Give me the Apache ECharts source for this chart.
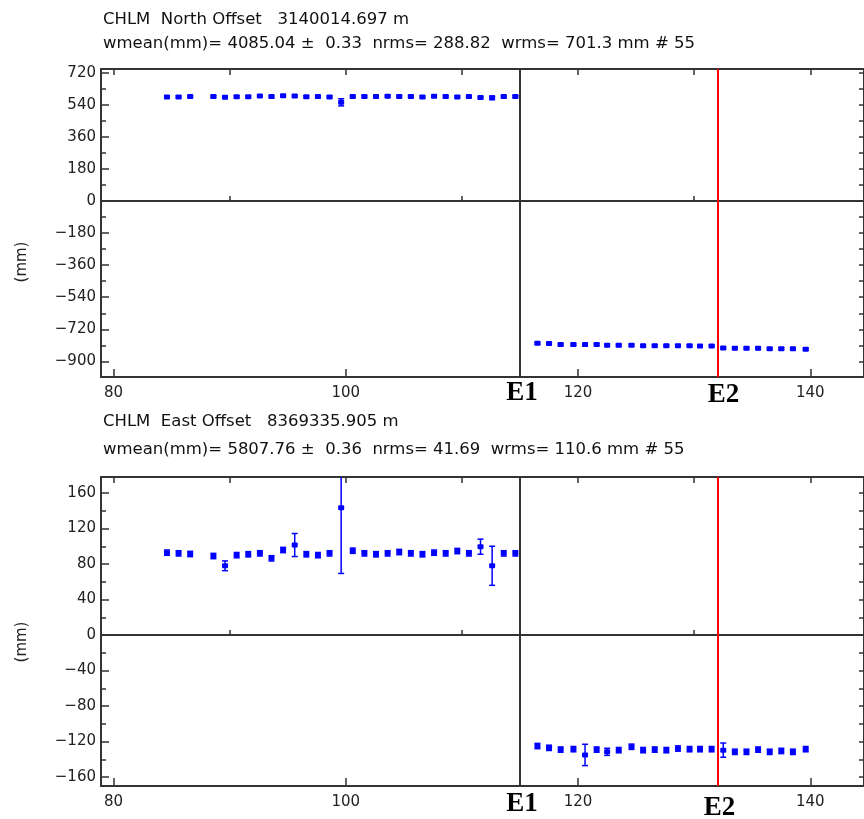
<!DOCTYPE html>
<html>
<head>
<meta charset="utf-8">
<script src="https://cdn.jsdelivr.net/npm/echarts@6/dist/echarts.min.js"></script>
<style>
  html, body { margin: 0; padding: 0; background: #fff; }
  #chart { width: 864px; height: 819px; }
</style>
</head>
<body>
<div id="chart"></div>
<script>
// epochs (decimal year, 2-digit style)
var epochs = [84.6, 85.6, 86.6, 88.6, 89.6, 90.6, 91.6, 92.6, 93.6, 94.6,
  95.6, 96.6, 97.6, 98.6, 99.6, 100.6, 101.6, 102.6, 103.6, 104.6,
  105.6, 106.6, 107.6, 108.6, 109.6, 110.6, 111.6, 112.6, 113.6, 114.6,
  116.5, 117.5, 118.5, 119.6, 120.6, 121.6, 122.5, 123.5, 124.6, 125.6,
  126.6, 127.6, 128.6, 129.6, 130.5, 131.5, 132.5, 133.5, 134.5, 135.5,
  136.5, 137.5, 138.5, 139.6]

// North offsets (mm) and sigmas
var northVals = [585, 585, 587, 587, 583, 586, 586, 590, 587, 592,
  590, 586, 587, 585, 555, 587, 587, 587, 589, 588,
  587, 585, 589, 587, 585, 587, 582, 580, 587, 587,
  -799, -800, -806, -806, -806, -806, -810, -810, -810, -812,
  -812, -812, -812, -812, -814, -814, -825, -827, -827, -827,
  -829, -829, -829, -832]
var northErr = [6, 6, 6, 6, 6, 6, 6, 6, 6, 6,
  6, 6, 6, 6, 20, 6, 6, 6, 6, 6,
  6, 6, 6, 6, 6, 6, 6, 10, 6, 6,
  6, 6, 6, 6, 6, 6, 6, 6, 6, 6,
  6, 6, 6, 6, 6, 6, 6, 6, 6, 6,
  6, 6, 6, 6]

// East offsets (mm) and sigmas
var eastVals = [92.8, 92, 91.3, 89, 78, 90, 91, 92, 86.4, 95.8,
  101.4, 91, 90, 92, 143.4, 95, 92, 91, 92, 93.5,
  92, 91, 92.8, 92, 94.6, 92, 99.5, 78, 92, 92,
  -125, -127, -129, -128.5, -135, -129, -131.5, -129.6, -125.8, -129.6,
  -129, -129.6, -127.8, -128.5, -128.5, -128.5, -129.6, -131.5, -131.5, -129,
  -131.5, -130.5, -131.5, -128.5]
var eastErr = [3, 3, 3, 3, 5.5, 3, 3, 3, 3, 3,
  13, 3, 3, 3, 74, 3, 3, 3, 3, 3,
  3, 3, 3, 3, 3, 3, 8.5, 22, 3, 3,
  3, 3, 3, 3, 12, 3, 4, 3, 3, 3,
  3, 3, 3, 3, 3, 3, 8, 3, 3, 3,
  3, 3, 3, 3]

// event epochs
var E1 = 115
var E2 = 132

// tick values
var xTicks = [80, 100, 120, 140]
var xMinorTicks = [90, 110, 130]
var xAllTicks = [80, 90, 100, 110, 120, 130, 140]
var northTicks = [720, 540, 360, 180, 0, -180, -360, -540, -720, -900]
var northMinor = [630, 450, 270, 90, -90, -270, -450, -630, -810]
var eastTicks = [160, 120, 80, 40, 0, -40, -80, -120, -160]
var eastMinor = [140, 100, 60, 20, -20, -60, -100, -140]

var titles = [
  ['CHLM  North Offset   3140014.697 m', 'wmean(mm)= 4085.04 \u00b1  0.33  nrms= 288.82  wrms= 701.3 mm # 55'],
  ['CHLM  East Offset   8369335.905 m', 'wmean(mm)= 5807.76 \u00b1  0.36  nrms= 41.69  wrms= 110.6 mm # 55']
]

var BLUE = '#0000ff'
var AXIS = '#333'
var FONT = 'DejaVu Sans'
var XMIN = 78.92
var XMAX = 144.62

function buildData(vals, errs) {
  return epochs.map(function (x, i) { return [x, vals[i], errs[i]] })
}

function fmt(v) {
  return v < 0 ? '\u2212' + Math.abs(v) : String(v)
}

function renderErr(params, api) {
  var x = api.value(0), y = api.value(1), e = api.value(2)
  var p = api.coord([x, y])
  var hi = api.coord([x, y + e])
  var lo = api.coord([x, y - e])
  var cs = params.coordSys
  var top = Math.max(hi[1], cs.y)
  var bot = Math.min(lo[1], cs.y + cs.height)
  var children = [{
    type: 'line',
    shape: { x1: p[0], y1: top, x2: p[0], y2: bot },
    style: { stroke: BLUE, lineWidth: 1.5 }
  }]
  if (hi[1] >= cs.y) {
    children.push({ type: 'line', shape: { x1: p[0] - 3, y1: hi[1], x2: p[0] + 3, y2: hi[1] }, style: { stroke: BLUE, lineWidth: 1.5 } })
  }
  children.push({ type: 'line', shape: { x1: p[0] - 3, y1: lo[1], x2: p[0] + 3, y2: lo[1] }, style: { stroke: BLUE, lineWidth: 1.5 } })
  children.push({
    type: 'rect',
    shape: { x: p[0] - 3, y: p[1] - 2.5, width: 6, height: 5, r: 1 },
    style: { fill: BLUE }
  })
  return { type: 'group', children: children }
}

function xAxesFor(g) {
  return [{
    gridIndex: g, type: 'value', min: XMIN, max: XMAX, position: 'bottom',
    axisLine: { onZero: false, lineStyle: { color: AXIS, width: 2 } },
    axisTick: { inside: true, length: 8, customValues: xTicks, lineStyle: { color: AXIS, width: 1.5 } },
    axisLabel: { customValues: xTicks, color: '#222', fontSize: 15, fontFamily: FONT, margin: 9 },
    splitLine: { show: false }
  }, {
    gridIndex: g, type: 'value', min: XMIN, max: XMAX, position: 'bottom',
    axisLine: { show: false },
    axisTick: { inside: true, length: 5, customValues: xMinorTicks, lineStyle: { color: AXIS, width: 1.5 } },
    axisLabel: { show: false },
    splitLine: { show: false }
  }, {
    gridIndex: g, type: 'value', min: XMIN, max: XMAX, position: 'top',
    axisLine: { onZero: false, lineStyle: { color: AXIS, width: 2 } },
    axisTick: { inside: true, length: 6, customValues: xAllTicks, lineStyle: { color: AXIS, width: 1.5 } },
    axisLabel: { show: false },
    splitLine: { show: false }
  }]
}

function yAxesFor(g, min, max, ticks, minor) {
  return [{
    gridIndex: g, type: 'value', min: min, max: max, position: 'left',
    axisLine: { show: true, onZero: false, lineStyle: { color: AXIS, width: 2 } },
    axisTick: { show: true, inside: true, length: 8, customValues: ticks, lineStyle: { color: AXIS, width: 1.5 } },
    axisLabel: { customValues: ticks, formatter: fmt, color: '#222', fontSize: 15, fontFamily: FONT, margin: 5 },
    splitLine: { show: false }
  }, {
    gridIndex: g, type: 'value', min: min, max: max, position: 'left',
    axisLine: { show: false },
    axisTick: { show: true, inside: true, length: 5, customValues: minor, lineStyle: { color: AXIS, width: 1.5 } },
    axisLabel: { show: false },
    splitLine: { show: false }
  }, {
    gridIndex: g, type: 'value', min: min, max: max, position: 'right',
    axisLine: { show: true, onZero: false, lineStyle: { color: AXIS, width: 2 } },
    axisTick: { show: true, inside: true, length: 5, customValues: ticks.concat(minor), lineStyle: { color: AXIS, width: 1.5 } },
    axisLabel: { show: false },
    splitLine: { show: false }
  }]
}

function markLines() {
  return {
    silent: true,
    symbol: 'none',
    label: { show: false },
    animation: false,
    data: [
      { yAxis: 0, lineStyle: { color: AXIS, width: 2, type: 'solid' } },
      { xAxis: E1, lineStyle: { color: AXIS, width: 2, type: 'solid' } },
      { xAxis: E2, lineStyle: { color: '#ff0000', width: 2, type: 'solid' } }
    ]
  }
}

var chart = echarts.init(document.getElementById('chart'))

var option = {
  backgroundColor: '#fff',
  animation: false,
  grid: [
    { left: 101, top: 69, width: 767, height: 308 },
    { left: 101, top: 477, width: 767, height: 309 }
  ],
  xAxis: xAxesFor(0).concat(xAxesFor(1)),
  yAxis: yAxesFor(0, -988, 742, northTicks, northMinor).concat(yAxesFor(1, -170, 178, eastTicks, eastMinor)),
  series: [{
    type: 'custom',
    xAxisIndex: 0, yAxisIndex: 0,
    renderItem: renderErr,
    data: buildData(northVals, northErr),
    markLine: markLines()
  }, {
    type: 'custom',
    xAxisIndex: 3, yAxisIndex: 3,
    renderItem: renderErr,
    data: buildData(eastVals, eastErr),
    markLine: markLines()
  }]
}
chart.setOption(option)

// titles, axis names and event labels
var e1Px = chart.convertToPixel({ xAxisIndex: 0 }, E1)
var e2Px = chart.convertToPixel({ xAxisIndex: 0 }, E2)
var headStyle = { fill: '#111', fontSize: 16.5, fontFamily: FONT }
var evStyle = { fill: '#000', fontSize: 27, fontWeight: 'bold', fontFamily: 'Liberation Serif', align: 'center', verticalAlign: 'middle' }
var mmStyle = { text: '(mm)', fill: '#222', fontSize: 15, fontFamily: FONT, align: 'center', verticalAlign: 'middle' }

chart.setOption({
  graphic: [
    { type: 'text', left: 103, top: 11, style: Object.assign({ text: titles[0][0] }, headStyle) },
    { type: 'text', left: 103, top: 35, style: Object.assign({ text: titles[0][1] }, headStyle) },
    { type: 'text', left: 103, top: 413, style: Object.assign({ text: titles[1][0] }, headStyle) },
    { type: 'text', left: 103, top: 441, style: Object.assign({ text: titles[1][1] }, headStyle) },
    { type: 'text', x: 22, y: 262, rotation: Math.PI / 2, style: mmStyle },
    { type: 'text', x: 22, y: 642, rotation: Math.PI / 2, style: mmStyle },
    { type: 'text', x: e1Px + 2, y: 393, style: Object.assign({ text: 'E1' }, evStyle) },
    { type: 'text', x: e2Px + 6, y: 395, style: Object.assign({ text: 'E2' }, evStyle) },
    { type: 'text', x: e1Px + 2, y: 804, style: Object.assign({ text: 'E1' }, evStyle) },
    { type: 'text', x: e2Px + 2, y: 808, style: Object.assign({ text: 'E2' }, evStyle) }
  ]
})
</script>
</body>
</html>
